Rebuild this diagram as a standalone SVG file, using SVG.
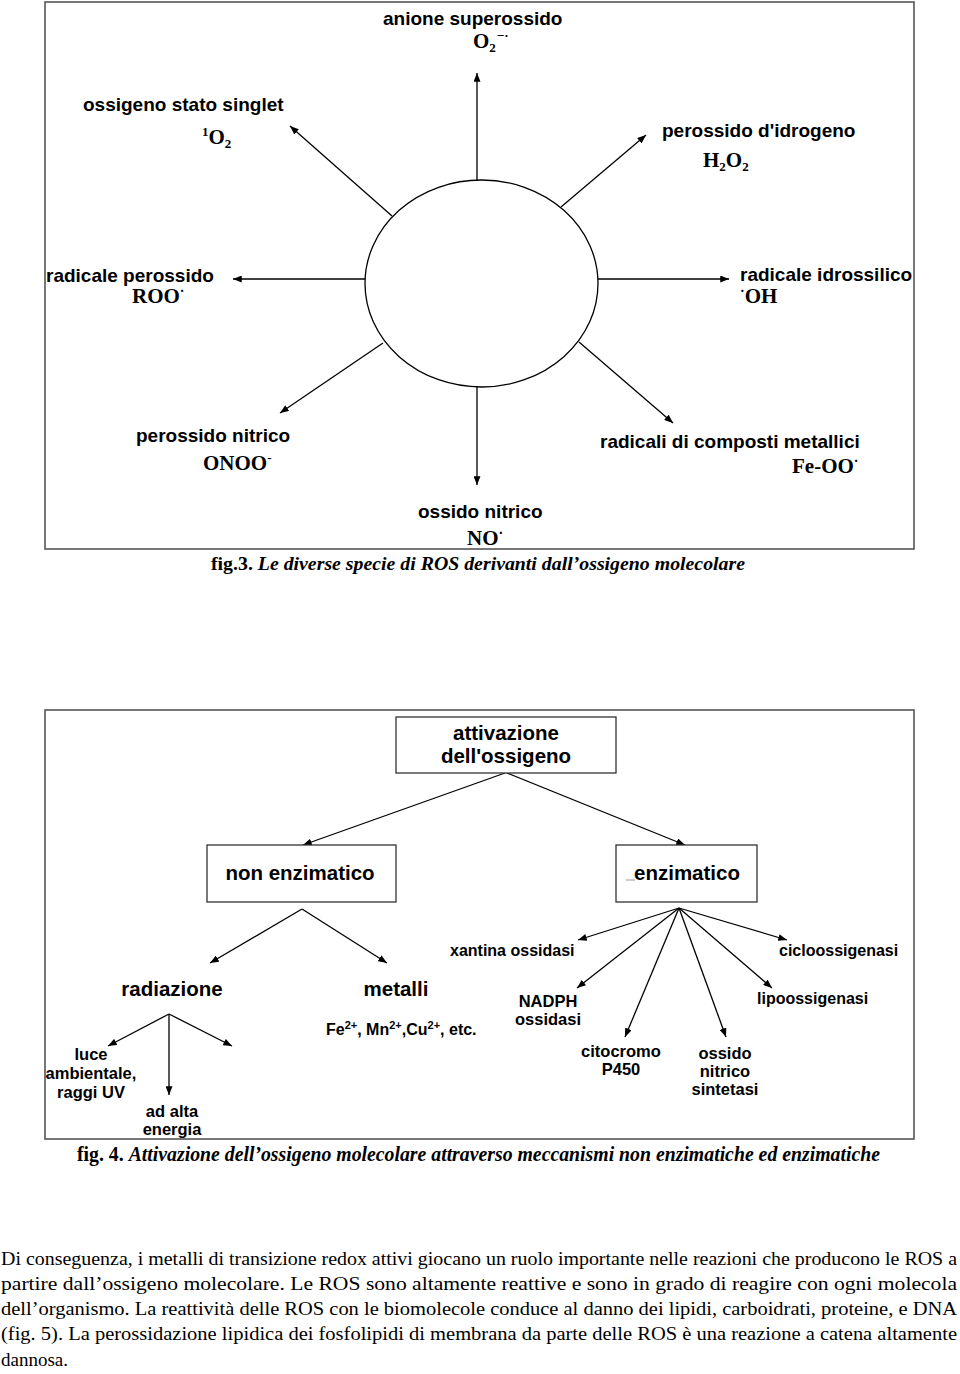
<svg xmlns="http://www.w3.org/2000/svg" width="960" height="1374" viewBox="0 0 960 1374">
<style>
.lbl{font-family:"Liberation Sans",Arial,sans-serif;font-weight:bold;fill:#000}
.f{font-family:"Liberation Serif","Times New Roman",serif;font-weight:bold;font-size:21px;fill:#000}
.sub{font-size:13px}
.dot{font-size:14px}
.ln{stroke:#000;stroke-width:1.3;fill:none}
.frame{fill:none;stroke:#555;stroke-width:1.6}
.box{fill:#fff;stroke:#333;stroke-width:1.3}
.cap{font-family:"Liberation Serif","Times New Roman",serif;font-weight:bold;fill:#000}
.para{font-family:"Liberation Serif","Times New Roman",serif;font-size:19px;fill:#000}
</style>
<defs>
<marker id="ah" viewBox="0 0 10 8" refX="10" refY="4" markerWidth="9" markerHeight="7" markerUnits="userSpaceOnUse" orient="auto">
<path d="M0,0 L10,4 L0,8 z" fill="#000"/>
</marker>
</defs>
<rect width="960" height="1374" fill="#fff"/>

<!-- Figure 3 -->
<rect class="frame" x="45" y="2" width="869" height="547"/>
<g id="center">
<ellipse cx="481.5" cy="283.5" rx="116.5" ry="103.5" fill="#fff" stroke="#000" stroke-width="1.3"/>
</g>
<g id="connectors-fig3">
<line class="ln" x1="477" y1="180" x2="477" y2="73" marker-end="url(#ah)"/>
<line class="ln" x1="392" y1="216" x2="290" y2="126" marker-end="url(#ah)"/>
<line class="ln" x1="561" y1="207" x2="646" y2="135" marker-end="url(#ah)"/>
<line class="ln" x1="365" y1="279" x2="233" y2="279" marker-end="url(#ah)"/>
<line class="ln" x1="598" y1="279" x2="729" y2="279" marker-end="url(#ah)"/>
<line class="ln" x1="383" y1="343" x2="280" y2="413" marker-end="url(#ah)"/>
<line class="ln" x1="477" y1="387" x2="477" y2="485" marker-end="url(#ah)"/>
<line class="ln" x1="579" y1="342" x2="673" y2="423" marker-end="url(#ah)"/>
</g>
<g id="superossido">
<text class="lbl" x="383" y="25" font-size="19">anione superossido</text>
<text class="f" x="473" y="48">O<tspan class="sub" dy="4">2</tspan><tspan class="sub" dx="1" dy="-12">−·</tspan></text>
</g>
<g id="singlet">
<text class="lbl" x="83" y="111" font-size="19">ossigeno stato singlet</text>
<text class="f" x="202" y="144"><tspan class="sub" dy="-8">1</tspan><tspan dy="8">O</tspan><tspan class="sub" dy="4">2</tspan></text>
</g>
<g id="perossido-idrogeno">
<text class="lbl" x="662" y="137" font-size="19">perossido d'idrogeno</text>
<text class="f" x="703" y="167">H<tspan class="sub" dy="4">2</tspan><tspan dy="-4">O</tspan><tspan class="sub" dy="4">2</tspan></text>
</g>
<g id="radicale-perossido">
<text class="lbl" x="46" y="282" font-size="19">radicale perossido</text>
<text class="f" x="132" y="303">ROO<tspan class="dot" dy="-7">·</tspan></text>
</g>
<g id="radicale-idrossilico">
<text class="lbl" x="740" y="281" font-size="19">radicale idrossilico</text>
<text class="f" x="740" y="303"><tspan class="dot" dy="-7">·</tspan><tspan dy="7">OH</tspan></text>
</g>
<g id="perossido-nitrico">
<text class="lbl" x="136" y="442" font-size="19">perossido nitrico</text>
<text class="f" x="203" y="470">ONOO<tspan class="sub" dy="-8">-</tspan></text>
</g>
<g id="ossido-nitrico">
<text class="lbl" x="418" y="518" font-size="19">ossido nitrico</text>
<text class="f" x="467" y="545">NO<tspan class="dot" dy="-7">·</tspan></text>
</g>
<g id="composti-metallici">
<text class="lbl" x="600" y="448" font-size="19">radicali di composti metallici</text>
<text class="f" x="792" y="473">Fe-OO<tspan class="dot" dy="-7">·</tspan></text>
</g>
<text class="cap" x="211" y="570" font-size="18.5" textLength="534" lengthAdjust="spacingAndGlyphs">fig.3. <tspan font-style="italic">Le diverse specie di ROS derivanti dall’ossigeno molecolare</tspan></text>

<!-- Figure 4 -->
<rect class="frame" x="45" y="710" width="869" height="429"/>
<g id="connectors-fig4">
<line class="ln" x1="505" y1="773" x2="303" y2="845" marker-end="url(#ah)"/>
<line class="ln" x1="507" y1="773" x2="685" y2="845" marker-end="url(#ah)"/>
<line class="ln" x1="302" y1="909" x2="210" y2="963" marker-end="url(#ah)"/>
<line class="ln" x1="302" y1="909" x2="387" y2="963" marker-end="url(#ah)"/>
<line class="ln" x1="169" y1="1014" x2="108" y2="1046" marker-end="url(#ah)"/>
<line class="ln" x1="169" y1="1014" x2="169" y2="1095" marker-end="url(#ah)"/>
<line class="ln" x1="169" y1="1014" x2="232" y2="1046" marker-end="url(#ah)"/>
<line class="ln" x1="679" y1="908" x2="578" y2="940" marker-end="url(#ah)"/>
<line class="ln" x1="679" y1="908" x2="577" y2="988" marker-end="url(#ah)"/>
<line class="ln" x1="679" y1="908" x2="625" y2="1037" marker-end="url(#ah)"/>
<line class="ln" x1="679" y1="908" x2="726" y2="1037" marker-end="url(#ah)"/>
<line class="ln" x1="679" y1="908" x2="772" y2="988" marker-end="url(#ah)"/>
<line class="ln" x1="679" y1="908" x2="787" y2="940" marker-end="url(#ah)"/>
</g>
<g id="attivazione">
<rect class="box" x="396" y="717" width="220" height="56"/>
<text class="lbl" x="506" y="740" font-size="20.5" text-anchor="middle">attivazione</text>
<text class="lbl" x="506" y="763" font-size="20.5" text-anchor="middle">dell'ossigeno</text>
</g>
<g id="non-enzimatico">
<rect class="box" x="207" y="845" width="189" height="57"/>
<text class="lbl" x="300" y="880" font-size="20.5" text-anchor="middle">non enzimatico</text>
</g>
<g id="enzimatico">
<rect class="box" x="616" y="845" width="141" height="57"/>
<line x1="626" y1="880" x2="635" y2="880" stroke="#999" stroke-width="1"/>
<text class="lbl" x="687" y="880" font-size="20.5" text-anchor="middle">enzimatico</text>
</g>
<g id="radiazione">
<text class="lbl" x="172" y="996" font-size="20.5" text-anchor="middle">radiazione</text>
</g>
<g id="metalli">
<text class="lbl" x="396" y="996" font-size="20.5" text-anchor="middle">metalli</text>
<text class="lbl" x="326" y="1035" font-size="16">Fe<tspan font-size="11" dy="-6">2+</tspan><tspan dy="6">, Mn</tspan><tspan font-size="11" dy="-6">2+</tspan><tspan dy="6">,Cu</tspan><tspan font-size="11" dy="-6">2+</tspan><tspan dy="6">, etc.</tspan></text>
</g>
<g id="luce" class="lbl" font-size="16.5" text-anchor="middle">
<text x="91" y="1060">luce</text>
<text x="91" y="1079">ambientale,</text>
<text x="91" y="1098">raggi UV</text>
</g>
<g id="alta-energia" class="lbl" font-size="16.5" text-anchor="middle">
<text x="172" y="1117">ad alta</text>
<text x="172" y="1135">energia</text>
</g>
<g id="xantina">
<text class="lbl" x="450" y="956" font-size="16">xantina ossidasi</text>
</g>
<g id="cicloossigenasi">
<text class="lbl" x="779" y="956" font-size="16">cicloossigenasi</text>
</g>
<g id="nadph" class="lbl" font-size="16.5" text-anchor="middle">
<text x="548" y="1007">NADPH</text>
<text x="548" y="1025">ossidasi</text>
</g>
<g id="lipoossigenasi">
<text class="lbl" x="757" y="1004" font-size="16">lipoossigenasi</text>
</g>
<g id="citocromo" class="lbl" font-size="16.5" text-anchor="middle">
<text x="621" y="1057">citocromo</text>
<text x="621" y="1075">P450</text>
</g>
<g id="nos" class="lbl" font-size="16.5" text-anchor="middle">
<text x="725" y="1059">ossido</text>
<text x="725" y="1077">nitrico</text>
<text x="725" y="1095">sintetasi</text>
</g>
<text class="cap" x="77" y="1161" font-size="20" textLength="803" lengthAdjust="spacingAndGlyphs">fig. 4. <tspan font-style="italic">Attivazione dell’ossigeno molecolare attraverso meccanismi non enzimatiche ed enzimatiche</tspan></text>

<!-- Paragraph -->
<g id="paragraph" class="para">
<text x="1" y="1265" textLength="956" lengthAdjust="spacingAndGlyphs">Di conseguenza, i metalli di transizione redox attivi giocano un ruolo importante nelle reazioni che producono le ROS a</text>
<text x="1" y="1290" textLength="956" lengthAdjust="spacingAndGlyphs">partire  dall’ossigeno  molecolare.  Le  ROS  sono  altamente  reattive  e  sono  in  grado  di  reagire  con  ogni  molecola</text>
<text x="1" y="1315" textLength="956" lengthAdjust="spacingAndGlyphs">dell’organismo. La reattività delle ROS con le biomolecole conduce al danno dei lipidi, carboidrati, proteine, e DNA</text>
<text x="1" y="1340" textLength="956" lengthAdjust="spacingAndGlyphs">(fig. 5). La perossidazione lipidica dei fosfolipidi di membrana da parte delle ROS è una reazione a catena altamente</text>
<text x="1" y="1366">dannosa.</text>
</g>
</svg>
